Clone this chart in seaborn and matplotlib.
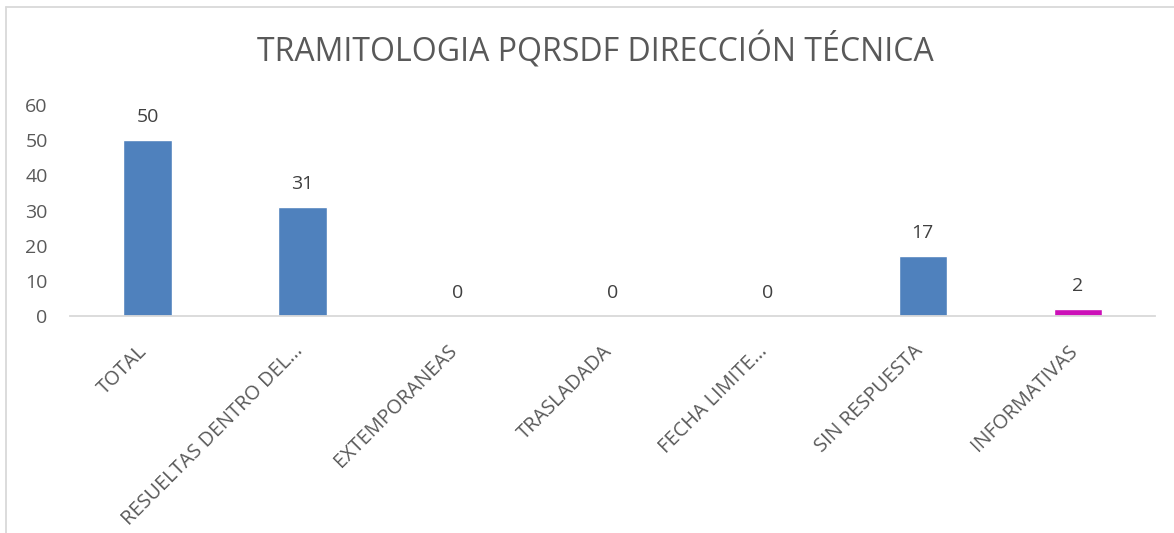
import seaborn as sns
import matplotlib.pyplot as plt
import matplotlib.transforms as mtransforms
import pandas as pd
from matplotlib.lines import Line2D

# Chart data
categories = ['TOTAL', 'RESUELTAS DENTRO DEL...', 'EXTEMPORANEAS', 'TRASLADADA',
              'FECHA LIMITE...', 'SIN RESPUESTA', 'INFORMATIVAS']
values = [50, 31, 0, 0, 0, 17, 2]
bar_colors = ['#4F81BD', '#4F81BD', '#4F81BD', '#4F81BD', '#4F81BD', '#4F81BD', '#CC10B8']

df = pd.DataFrame({'Categoria': categories, 'Cantidad': values})

sns.set_theme(style='white')
plt.rcParams['font.family'] = ['Open Sans', 'DejaVu Sans']
text_color = '#595959'

fig = plt.figure(figsize=(11.74, 5.33), dpi=100)
ax = fig.add_axes([0.0596, 0.407, 0.9244, 0.396])

sns.barplot(data=df, x='Categoria', y='Cantidad', hue='Categoria',
            palette=bar_colors, width=0.31, legend=False, ax=ax, saturation=1)

ax.set_ylim(0, 60)
ax.set_yticks(range(0, 61, 10))
ax.set_xlabel('')
ax.set_ylabel('')
for side in ['top', 'right', 'left']:
    ax.spines[side].set_visible(False)
ax.spines['bottom'].set_color('#D9D9D9')
ax.spines['bottom'].set_linewidth(1.3)
ax.tick_params(axis='y', length=0, labelsize=14, labelcolor=text_color, pad=16)
ax.tick_params(axis='x', length=0, labelsize=14.3, labelcolor=text_color, pad=18)

# rotated labels: shift left so their upper end sits under the category
shift = mtransforms.ScaledTranslation(-10 / 100, 0, fig.dpi_scale_trans)
for lbl in ax.get_xticklabels():
    lbl.set_rotation(45)
    lbl.set_ha('right')
    lbl.set_rotation_mode('anchor')
    lbl.set_transform(lbl.get_transform() + shift)

for i, v in enumerate(values):
    ax.annotate(str(v), (i, v), xytext=(0, 10), textcoords='offset points',
                ha='center', va='bottom', fontsize=14, color='#404040')

fig.text(0.507, 0.905, 'TRAMITOLOGIA PQRSDF DIRECCIÓN TÉCNICA', ha='center',
         va='center', fontsize=23, color=text_color)

# chart frame (left and top edges visible)
fig.add_artist(Line2D([6 / 1174, 6 / 1174], [0, 1 - 7 / 533], transform=fig.transFigure,
                      color='#D9D9D9', lw=1.3))
fig.add_artist(Line2D([6 / 1174, 1], [1 - 7 / 533, 1 - 7 / 533], transform=fig.transFigure,
                      color='#D9D9D9', lw=1.3))

fig.savefig('out.png', dpi=100)
